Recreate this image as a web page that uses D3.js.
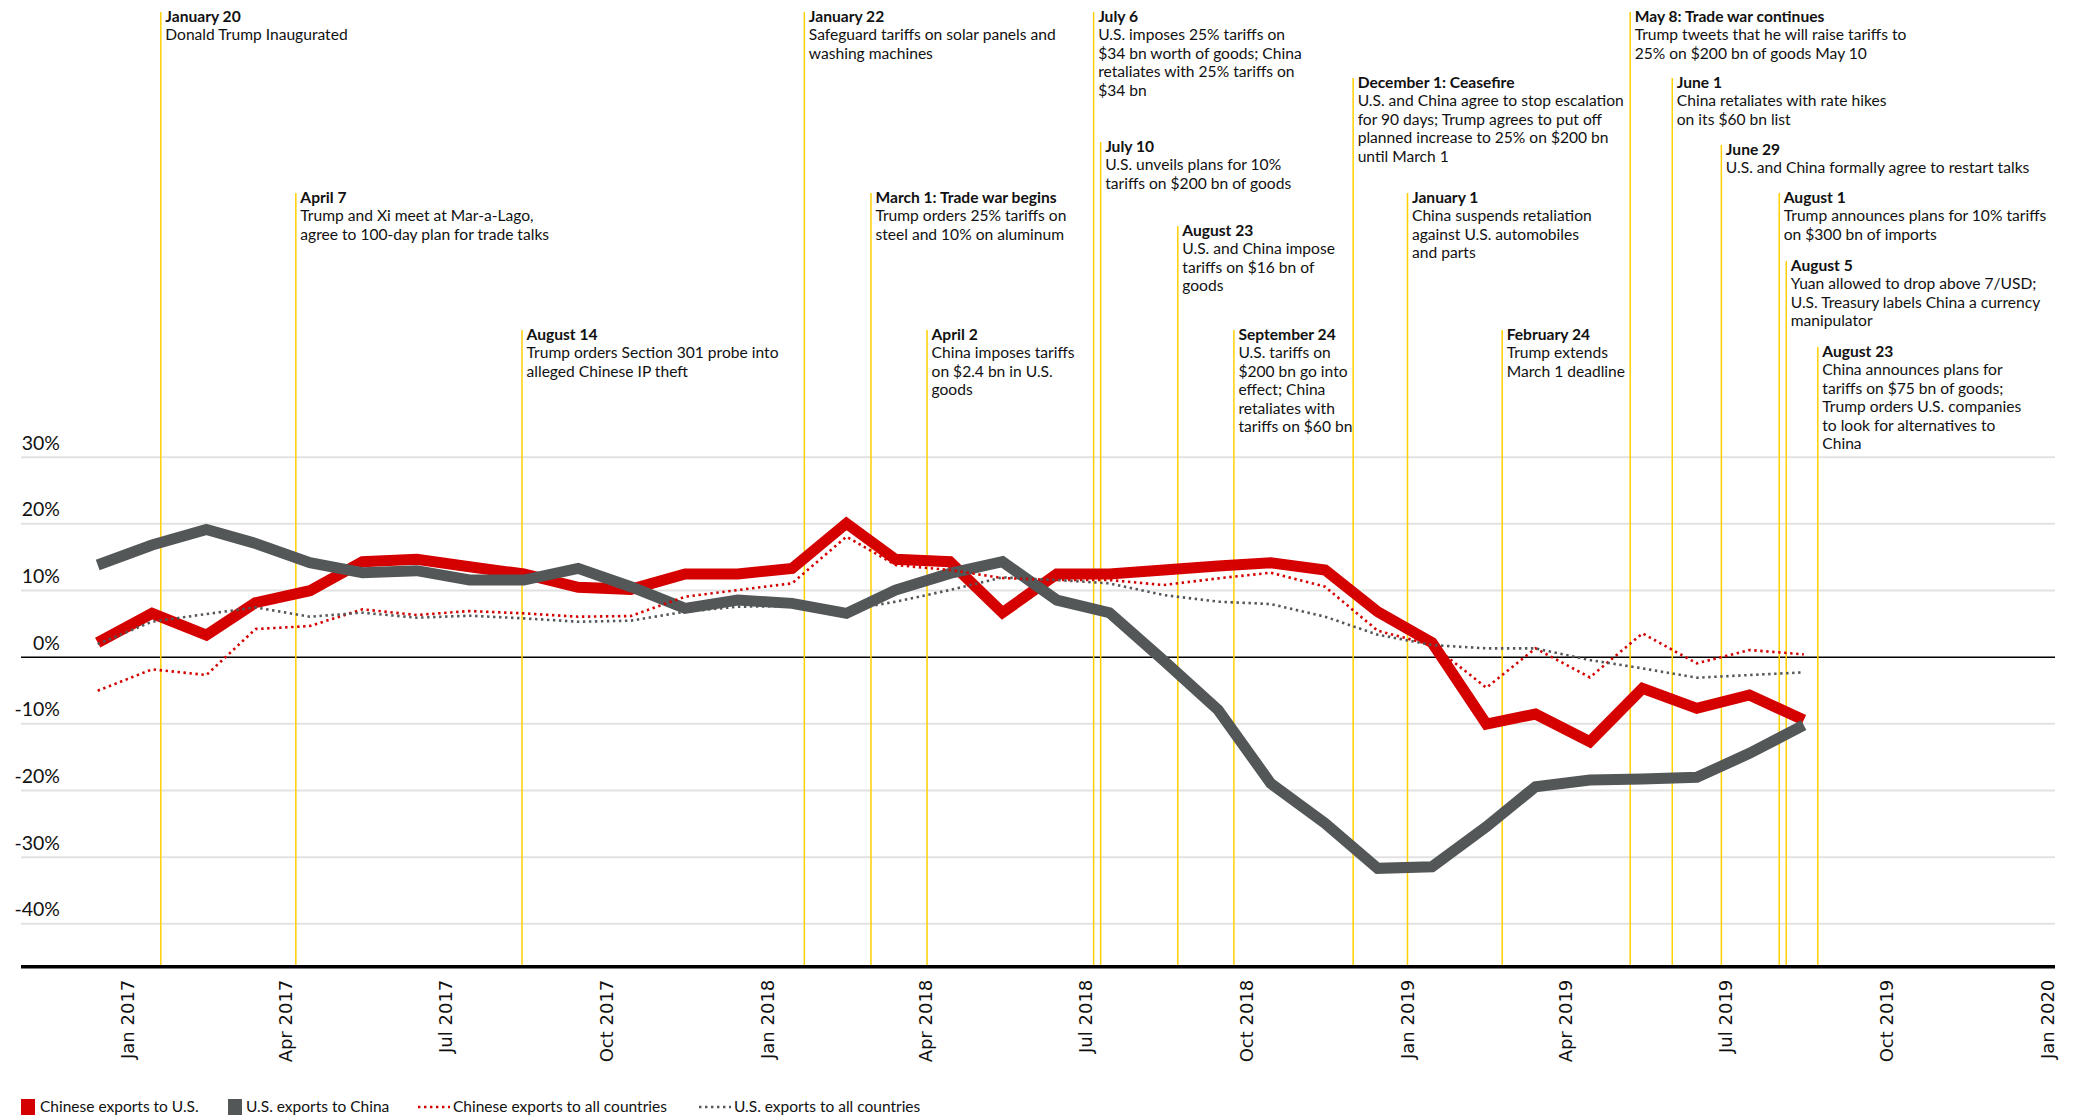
<!DOCTYPE html>
<html><head><meta charset="utf-8">
<script src="https://cdn.jsdelivr.net/npm/d3@7"></script>
<style>
html,body{margin:0;padding:0;background:#fff;}
svg{display:block;}
</style></head><body>
<svg id="chart" width="2075" height="1116"></svg>
<script>
// ---------------- DATA ----------------
const months = ["2016-12","2017-01","2017-02","2017-03","2017-04","2017-05","2017-06","2017-07","2017-08","2017-09","2017-10","2017-11","2017-12",
  "2018-01","2018-02","2018-03","2018-04","2018-05","2018-06","2018-07","2018-08","2018-09","2018-10","2018-11","2018-12",
  "2019-01","2019-02","2019-03","2019-04","2019-05","2019-06","2019-07","2019-08"];
const chineseExportsToUS = [2.1, 6.5, 3.25, 8.1, 9.9, 14.25, 14.6, 13.5, 12.4, 10.4, 10.1, 12.4, 12.4,
  13.25, 20.0, 14.6, 14.25, 6.6, 12.4, 12.4, 13.0, 13.6, 14.1, 13.0, 6.75,
  2.1, -10.1, -8.6, -12.75, -4.75, -7.75, -5.75, -9.5];
const usExportsToChina = [13.75, 16.75, 19.1, 17.0, 14.1, 12.6, 12.9, 11.5, 11.5, 13.25, 10.5, 7.25, 8.5,
  8.0, 6.5, 10.0, 12.5, 14.25, 8.5, 6.6, -0.6, -8.0, -19.0, -25.0, -31.75,
  -31.5, -25.5, -19.5, -18.5, -18.35, -18.1, -14.5, -10.25];
const chineseExportsToAll = [-5.1, -1.9, -2.75, 4.15, 4.6, 7.1, 6.25, 6.85, 6.5, 6.0, 6.1, 9.0, 10.0,
  11.0, 18.0, 13.75, 13.0, 11.8, 11.5, 11.5, 10.75, 11.75, 12.6, 10.5, 3.9,
  1.75, -4.65, 1.25, -3.1, 3.5, -1.0, 1.0, 0.35];
const usExportsToAll = [1.9, 5.25, 6.4, 7.4, 6.0, 6.6, 5.85, 6.15, 5.75, 5.25, 5.4, 6.75, 7.5,
  7.6, 7.0, 8.25, 10.0, 11.9, 11.5, 11.0, 9.25, 8.25, 7.9, 6.0, 3.3,
  1.75, 1.25, 1.25, -0.5, -1.75, -3.15, -2.75, -2.35];

const seriesNames = ["Chinese exports to U.S.", "U.S. exports to China", "Chinese exports to all countries", "U.S. exports to all countries"];

const yTickValues = [30, 20, 10, 0, -10, -20, -30, -40];
const xTickDates = ["2017-01-01","2017-04-01","2017-07-01","2017-10-01","2018-01-01","2018-04-01","2018-07-01","2018-10-01",
  "2019-01-01","2019-04-01","2019-07-01","2019-10-01","2020-01-01"];
const xTickLabels = ["Jan 2017","Apr 2017","Jul 2017","Oct 2017","Jan 2018","Apr 2018","Jul 2018","Oct 2018",
  "Jan 2019","Apr 2019","Jul 2019","Oct 2019","Jan 2020"];

const eventDates = ["2017-01-20","2017-04-07","2017-08-14","2018-01-22","2018-03-01","2018-04-02","2018-07-06","2018-07-10",
  "2018-08-23","2018-09-24","2018-12-01","2019-01-01","2019-02-24","2019-05-08","2019-06-01","2019-06-29",
  "2019-08-01","2019-08-05","2019-08-23"];
const eventTitles = ["January 20","April 7","August 14","January 22","March 1: Trade war begins","April 2","July 6","July 10",
  "August 23","September 24","December 1: Ceasefire","January 1","February 24","May 8: Trade war continues","June 1","June 29",
  "August 1","August 5","August 23"];
const eventNotes = [
  ["Donald Trump Inaugurated"],
  ["Trump and Xi meet at Mar-a-Lago,","agree to 100-day plan for trade talks"],
  ["Trump orders Section 301 probe into","alleged Chinese IP theft"],
  ["Safeguard tariffs on solar panels and","washing machines"],
  ["Trump orders 25% tariffs on","steel and 10% on aluminum"],
  ["China imposes tariffs","on $2.4 bn in U.S.","goods"],
  ["U.S. imposes 25% tariffs on","$34 bn worth of goods; China","retaliates with 25% tariffs on","$34 bn"],
  ["U.S. unveils plans for 10%","tariffs on $200 bn of goods"],
  ["U.S. and China impose","tariffs on $16 bn of","goods"],
  ["U.S. tariffs on","$200 bn go into","effect; China","retaliates with","tariffs on $60 bn"],
  ["U.S. and China agree to stop escalation","for 90 days; Trump agrees to put off","planned increase to 25% on $200 bn","until March 1"],
  ["China suspends retaliation","against U.S. automobiles","and parts"],
  ["Trump extends","March 1 deadline"],
  ["Trump tweets that he will raise tariffs to","25% on $200 bn of goods May 10"],
  ["China retaliates with rate hikes","on its $60 bn list"],
  ["U.S. and China formally agree to restart talks"],
  ["Trump announces plans for 10% tariffs","on $300 bn of imports"],
  ["Yuan allowed to drop above 7/USD;","U.S. Treasury labels China a currency","manipulator"],
  ["China announces plans for","tariffs on $75 bn of goods;","Trump orders U.S. companies","to look for alternatives to","China"]
];

// ---------------- LAYOUT / STYLE ----------------
const W = 2075, H = 1116;
const labelTops = [12,193,330,12,193,330,12,142,226,330,78,193,330,12,78,145,193,261,347];
const gridLeft = 21, gridRight = 2055;
const FONT = "Lato, 'Noto Sans', sans-serif";
const RED = "#d50000", GRAY = "#535758", GOLD = "#ffd000";

const parse = d3.utcParse("%Y-%m-%d");
const x = d3.scaleUtc().domain([parse("2017-01-01"), parse("2020-01-01")]).range([127.5, 2047.5]);
const y = d3.scaleLinear().domain([-46.5, 30]).range([966.7, 456.7]);
const bottomY = y(-46.5);

const svg = d3.select("#chart");

// y grid + labels via axis
const yAxis = d3.axisLeft(y).tickValues(yTickValues).tickSize(-(gridRight - gridLeft)).tickFormat(d => d + "%");
const gy = svg.append("g").attr("transform", `translate(${gridLeft},0)`).call(yAxis);
gy.select(".domain").remove();
gy.selectAll(".tick line").attr("stroke", d => d === 0 ? "#000" : "#e2e2e2").attr("stroke-width", d => d === 0 ? 1.6 : 2);
gy.selectAll(".tick text").attr("x", 39).attr("dy", -7.5).attr("text-anchor", "end")
  .style("font-family", FONT).style("font-size", "19.5px").attr("fill", "#111");

// event lines
const dataDates = months.map(m => parse(m + "-15"));
svg.append("g").selectAll("line").data(eventDates).join("line")
  .attr("x1", d => x(parse(d))).attr("x2", d => x(parse(d)))
  .attr("y1", (d, i) => labelTops[i]).attr("y2", bottomY)
  .attr("stroke", GOLD).attr("stroke-width", 1.5);

// event labels
const lab = svg.append("g").style("font-family", FONT).style("font-size", "15.6px").attr("fill", "#111");
eventDates.forEach((d, i) => {
  const t = lab.append("text").attr("x", x(parse(d)) + 4.5).attr("y", labelTops[i] + 10);
  t.append("tspan").attr("x", x(parse(d)) + 4.5).style("font-weight", "700").text(eventTitles[i]);
  eventNotes[i].forEach(line => {
    t.append("tspan").attr("x", x(parse(d)) + 4.5).attr("dy", 18.4).text(line);
  });
});

// x axis
const xAxis = d3.axisBottom(x).tickValues(xTickDates.map(parse)).tickSize(0).tickFormat((d, i) => xTickLabels[i]);
const gx = svg.append("g").attr("transform", `translate(0,${bottomY})`).call(xAxis);
gx.select(".domain").remove();
gx.selectAll(".tick text").attr("transform", "rotate(-90)").attr("text-anchor", "end")
  .attr("x", -13).attr("y", 0).attr("dy", "0.36em")
  .style("font-family", "'DejaVu Sans', sans-serif").style("font-size", "18px").attr("fill", "#111");
svg.append("line").attr("x1", gridLeft).attr("x2", gridRight).attr("y1", bottomY).attr("y2", bottomY)
  .attr("stroke", "#000").attr("stroke-width", 3.5);

// series lines
const line = d3.line().x((d, i) => x(dataDates[i])).y(d => y(d));
svg.append("path").datum(chineseExportsToUS).attr("d", line).attr("fill", "none")
  .attr("stroke", RED).attr("stroke-width", 11).attr("stroke-linejoin", "miter");
svg.append("path").datum(usExportsToChina).attr("d", line).attr("fill", "none")
  .attr("stroke", GRAY).attr("stroke-width", 11).attr("stroke-linejoin", "miter");
svg.append("path").datum(chineseExportsToAll).attr("d", line).attr("fill", "none")
  .attr("stroke", RED).attr("stroke-width", 2.6).attr("stroke-dasharray", "2.4,3.6");
svg.append("path").datum(usExportsToAll).attr("d", line).attr("fill", "none")
  .attr("stroke", GRAY).attr("stroke-width", 2.6).attr("stroke-dasharray", "2.4,3.6");

// legend
const legY = 1107;
const leg = svg.append("g").style("font-family", FONT).style("font-size", "15.5px").attr("fill", "#111");
const legX = [21, 228, 418, 699];
const legTextX = [40, 246, 453, 734];
[0, 1].forEach(i => {
  leg.append("rect").attr("x", legX[i]).attr("y", legY - 8).attr("width", 14).attr("height", 16)
    .attr("fill", i === 0 ? RED : GRAY);
});
[2, 3].forEach(i => {
  leg.append("line").attr("x1", legX[i]).attr("x2", legX[i] + 32).attr("y1", legY).attr("y2", legY)
    .attr("stroke", i === 2 ? RED : GRAY).attr("stroke-width", 2.6).attr("stroke-dasharray", "2.4,3.6");
});
seriesNames.forEach((n, i) => {
  leg.append("text").attr("x", legTextX[i]).attr("y", legY).attr("dy", "0.35em").text(n);
});
</script>
</body></html>
